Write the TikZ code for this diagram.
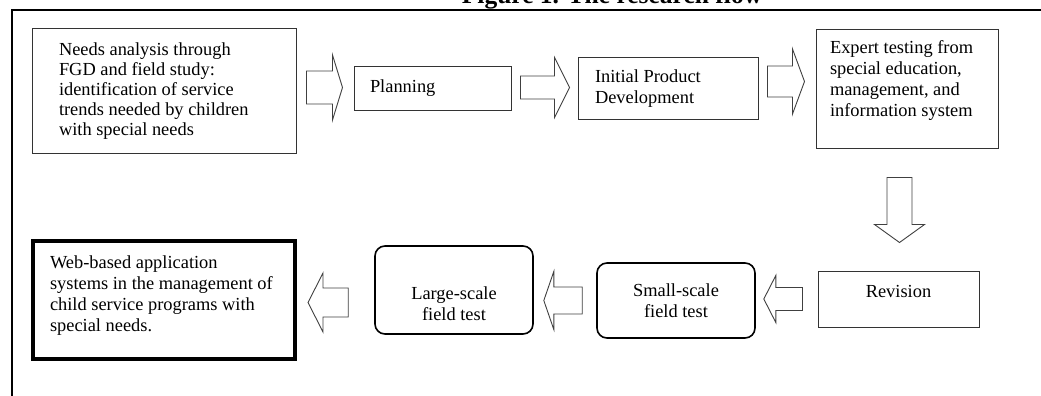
\documentclass[tikz,border=0pt]{standalone}
\usepackage{fontspec}
\setmainfont{Liberation Serif}
\usetikzlibrary{calc}

\newcommand{\boxfont}{\fontsize{18.4}{21}\selectfont}
\newcommand{\titlefont}{\fontsize{25.5}{28}\selectfont\bfseries}

% hollow block arrow: tail, tip, shaft half width, head half width, head length
\newcommand{\flowarrow}[5]{%
  \coordinate (hb) at ($(#2)!#5pt!(#1)$);
  \draw[hollow] ($(#1)!#3pt!90:(#2)$) -- ($(hb)!#3pt!90:(#2)$)
    -- ($(hb)!#4pt!90:(#2)$) -- (#2) -- ($(hb)!#4pt!-90:(#2)$)
    -- ($(hb)!#3pt!-90:(#2)$) -- ($(#1)!#3pt!-90:(#2)$) -- cycle;
}

\tikzset{
  box/.style={draw=black!80, rectangle, line width=1pt, inner sep=0pt, font=\boxfont},
  roundbox/.style={box, draw=black, rounded corners=10pt, line width=1.6pt},
  finalbox/.style={box, draw=black, line width=4pt},
  hollow/.style={draw=black!75, line width=0.9pt, line join=miter, fill=white}
}

\begin{document}
\begin{tikzpicture}[x=1pt, y=-1pt]
  \useasboundingbox (0,0) rectangle (1041,396);

  % Title and frame
  \node[font=\titlefont, anchor=base, inner sep=0pt] (title) at (612,3.5) {Figure 1. The research flow};
  \draw[line width=2pt] (1041,10) -- (12,10) -- (12,396);

  % Top row
  \node[box, minimum width=264, minimum height=124] (needs) at (164,91)
    {\parbox[c][96pt][t]{210pt}{\baselineskip=20pt\raggedright Needs analysis through\\ FGD and field study:\\ identification of service\\ trends needed by children\\ with special needs}};
  \node[box, minimum width=157, minimum height=43] (plan) at (432.5,88.5)
    {\parbox{125pt}{Planning}};
  \node[box, minimum width=180, minimum height=61] (init) at (668,88.5)
    {\parbox{146pt}{\raggedright Initial Product\\ Development}};
  \node[box, minimum width=182, minimum height=118] (expert) at (907,89)
    {\parbox[c][96.6pt][t]{154pt}{\raggedright Expert testing from\\ special education,\\ management, and\\ information system}};

  % Bottom row
  \node[box, minimum width=161, minimum height=56] (rev) at (898.5,299)
    {\parbox[c][26.6pt][t]{140pt}{\centering Revision}};
  \node[roundbox, minimum width=158, minimum height=75] (small) at (676,300.5)
    {\parbox{130pt}{\centering Small-scale\\ field test}};
  \node[roundbox, minimum width=158, minimum height=88] (large) at (454,290)
    {\parbox[c][61.4pt][b]{130pt}{\centering Large-scale\\ field test}};
  \node[finalbox, minimum width=262, minimum height=118] (web) at (164,300)
    {\parbox[c][88.6pt][t]{228pt}{\raggedright Web-based application\\ systems in the management of\\ child service programs with\\ special needs.}};

  % Arrows
  \coordinate (a1t) at ($(needs.east |- plan.west)+(10,-1)$);
  \coordinate (a1h) at ($(plan.west)+(-11,-1)$);
  \flowarrow{a1t}{a1h}{16.5}{32.5}{10}
  \coordinate (a2t) at ($(plan.east)+(9,-1)$);
  \coordinate (a2h) at ($(init.west)+(-8,-1)$);
  \flowarrow{a2t}{a2h}{11.5}{30}{15}
  \coordinate (a3t) at ($(init.east)+(9,-7)$);
  \coordinate (a3h) at ($(init.east -| expert.west)+(-11,-7)$);
  \flowarrow{a3t}{a3h}{15.5}{32.5}{12}
  \coordinate (a4t) at ($(expert.south)+(-7.5,29)$);
  \coordinate (a4h) at ($(rev.north)+(1,-28)$);
  \flowarrow{a4t}{a4h}{12.5}{25}{18}
  \coordinate (a5t) at ($(rev.west)+(-15,0)$);
  \coordinate (a5h) at ($(small.east |- rev.west)+(8,0)$);
  \flowarrow{a5t}{a5h}{11.5}{23.5}{12}
  \coordinate (a6t) at ($(small.west)+(-14,0)$);
  \coordinate (a6h) at ($(large.east |- small.west)+(10,0)$);
  \flowarrow{a6t}{a6h}{13.5}{29}{10}
  \coordinate (a7t) at ($(large.west |- small.west)+(-26,2)$);
  \coordinate (a7h) at ($(web.east |- small.west)+(11,2)$);
  \flowarrow{a7t}{a7h}{14.5}{29.5}{15}
\end{tikzpicture}
\end{document}
